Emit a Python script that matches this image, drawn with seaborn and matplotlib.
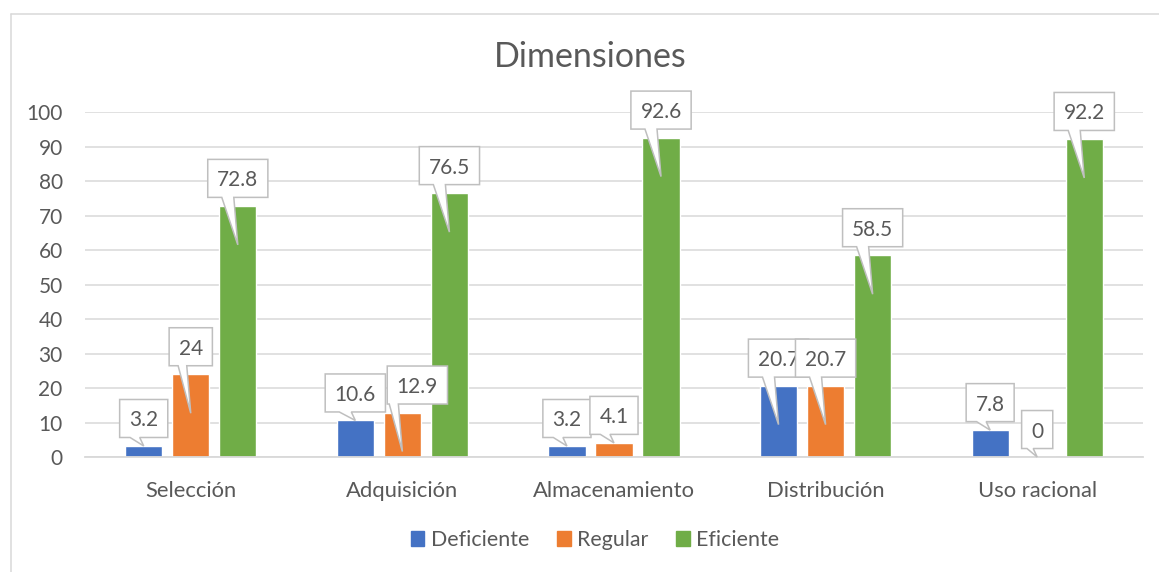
import numpy as np
import pandas as pd
import matplotlib
matplotlib.use("Agg")
import matplotlib.pyplot as plt
from matplotlib.patches import Polygon, Rectangle
from matplotlib.lines import Line2D
from matplotlib.transforms import IdentityTransform
import seaborn as sns

# Porcentaje por dimensión y nivel
dimensiones = ["Selección", "Adquisición", "Almacenamiento", "Distribución", "Uso racional"]
niveles = ["Deficiente", "Regular", "Eficiente"]
deficiente = [3.2, 10.6, 3.2, 20.7, 7.8]
regular = [24, 12.9, 4.1, 20.7, 0]
eficiente = [72.8, 76.5, 92.6, 58.5, 92.2]
colores = ["#4472C4", "#ED7D31", "#70AD47"]
y_ticks = list(range(0, 101, 10))

series = [deficiente, regular, eficiente]
df = pd.DataFrame({
    "Dimensión": dimensiones * len(niveles),
    "Nivel": np.repeat(niveles, len(dimensiones)),
    "Porcentaje": deficiente + regular + eficiente,
})

sns.set_theme(style="white")
plt.rcParams["font.family"] = ["Lato", "DejaVu Sans"]
TXT = "#595959"
GRID = "#D9D9D9"
EDGE = "#BFBFBF"

fig = plt.figure(figsize=(11.59, 5.72), dpi=100)
ax = fig.add_axes([0.0733, 0.2010, 0.9129, 0.6031])

sns.barplot(data=df, x="Dimensión", y="Porcentaje", hue="Nivel",
            order=dimensiones, hue_order=niveles, palette=colores,
            width=0.667, gap=0.21, saturation=1, errorbar=None,
            legend=False, ax=ax)

ax.set_xlim(-0.5, len(dimensiones) - 0.5)
ax.set_ylim(0, 100)
ax.set_yticks(y_ticks)
ax.set_xlabel("")
ax.set_ylabel("")
ax.set_axisbelow(True)
ax.yaxis.grid(True, color=GRID, lw=1.1)
for s in ["top", "right", "left"]:
    ax.spines[s].set_visible(False)
ax.spines["bottom"].set_color(GRID)
ax.spines["bottom"].set_linewidth(1.3)
ax.tick_params(axis="y", length=0, pad=16, labelsize=15, labelcolor=TXT)
ax.tick_params(axis="x", length=0, pad=17, labelsize=15.8, labelcolor=TXT)

# Title
fig.text(0.509, 0.900, "Dimensiones", ha="center", va="center",
         fontsize=24.5, color=TXT)

# Legend
handles = [Rectangle((0, 0), 1, 1, color=c) for c in colores]
fig.legend(handles, niveles, loc="center", bbox_to_anchor=(0.5134, 0.056),
           ncol=3, frameon=False, fontsize=15.4, handlelength=0.64,
           handleheight=0.64, handletextpad=0.3, columnspacing=1.3,
           labelcolor=TXT)

# Chart-area frame
fx = 10.5 / 1159
fy = 1 - 13.5 / 572
fig.add_artist(Line2D([fx, fx], [0, fy], transform=fig.transFigure, color=GRID, lw=1.1))
fig.add_artist(Line2D([fx, 1], [fy, fy], transform=fig.transFigure, color=GRID, lw=1.1))

# Data callouts (boxes with pointers), drawn in pixel space
fig.canvas.draw()
renderer = fig.canvas.get_renderer()
nudge = {(1, 1): 15}          # (serie, dimensión) -> desplazamiento horizontal en px
box_h, pad_x, gap_px = 38, 9.5, 8.5
ident = IdentityTransform()

for si, (cont, vals) in enumerate(zip(ax.containers, series)):
    for ci, (bar, v) in enumerate(zip(cont.patches, vals)):
        cx = bar.get_x() + bar.get_width() / 2
        px, py = ax.transData.transform((cx, v))
        tip_v = v - 11.3 if v >= 12 else v
        tx, ty = ax.transData.transform((cx, tip_v))
        label = f"{v:g}"
        bx = px + nudge.get((si, ci), 0)
        y0 = py + gap_px
        y1 = y0 + box_h
        t = fig.text(bx, (y0 + y1) / 2, label, transform=ident, ha="center",
                     va="center_baseline", fontsize=15, color=TXT,
                     zorder=11 + 2 * si)
        w = t.get_window_extent(renderer).width + 2 * pad_x
        x0, x1 = bx - w / 2, bx + w / 2
        br = min(tx - 4, x1 - 2)
        bl = max(br - 0.2 * w, x0 + 2)
        verts = [(x0, y0), (bl, y0), (tx, ty), (br, y0), (x1, y0), (x1, y1), (x0, y1)]
        poly = Polygon(verts, closed=True, transform=ident, facecolor="white",
                       edgecolor=EDGE, lw=1.1, joinstyle="miter", zorder=10 + 2 * si)
        fig.add_artist(poly)

fig.savefig("out.png", dpi=100)
